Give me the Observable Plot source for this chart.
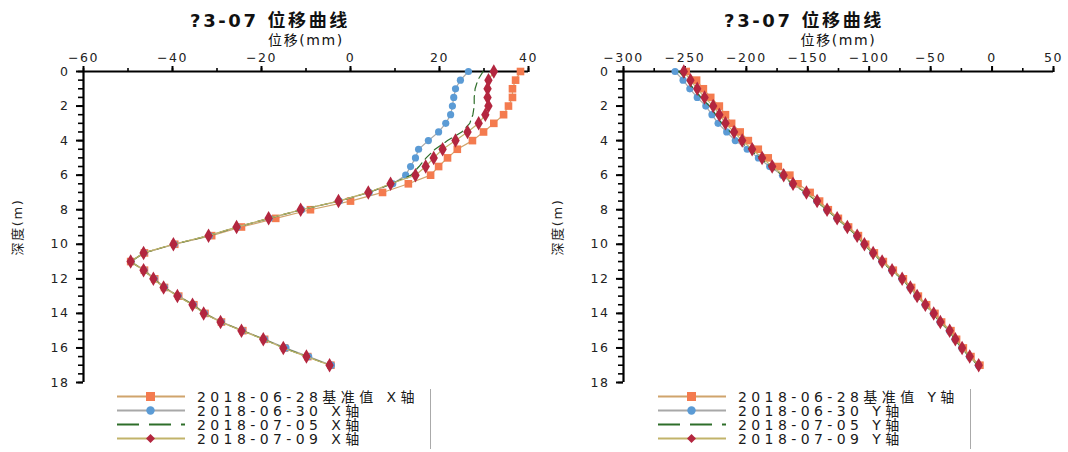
<!DOCTYPE html>
<html><head><meta charset="utf-8">
<script src="https://cdn.jsdelivr.net/npm/d3@7"></script>
<script src="https://cdn.jsdelivr.net/npm/@observablehq/plot@0.6"></script>
<style>
body{margin:0;background:#fff;font-family:"DejaVu Sans","Noto Sans CJK SC",sans-serif;}
#root{position:relative;width:1068px;height:452px;overflow:hidden;background:#fff;}
.panel{position:absolute;top:0;height:452px;}
.title{position:absolute;top:6px;left:0;width:100%;text-align:center;font-weight:bold;font-size:18px;letter-spacing:2.6px;color:#111;}
.chart{position:absolute;top:28px;left:0;}
.legend{position:absolute;top:389px;height:60px;border-right:1px solid #aaa;font-size:14px;letter-spacing:4.4px;color:#1a1a1a;}
.row{display:flex;align-items:center;height:14px;white-space:nowrap;}
.row svg{flex:none;margin-right:10px;}
</style></head>
<body><div id="root"></div>
<script>
const depth = [0,0.5,1,1.5,2,2.5,3,3.5,4,4.5,5,5.5,6,6.5,7,7.5,8,8.5,9,9.5,10,10.5,11,11.5,12,12.5,13,13.5,14,14.5,15,15.5,16,16.5,17];

const seriesNamesX = ["2018-06-28基准值 X轴","2018-06-30 X轴","2018-07-05 X轴","2018-07-09 X轴"];
const seriesNamesY = ["2018-06-28基准值 Y轴","2018-06-30 Y轴","2018-07-05 Y轴","2018-07-09 Y轴"];

// X-direction displacement (mm)
const x0628 = [38.2,37.1,36.4,36.4,35.5,34.4,32.2,29.9,27.4,24.0,21.8,19.8,18.0,13.0,7.2,0.0,-9.0,-16.8,-24.5,-31.2,-39.5,-46.3,-49.4,-46.3,-44.0,-41.8,-38.6,-35.2,-32.7,-29.0,-24.2,-19.3,-14.8,-9.6,-4.4];
const x0630 = [26.5,24.7,23.6,23.2,22.9,22.5,21.4,19.8,17.5,15.3,14.6,13.5,12.4,9.5,4.2,-2.5,-11.0,-18.2,-25.4,-31.7,-39.6,-46.4,-49.3,-46.4,-44.1,-41.8,-38.7,-35.3,-32.8,-29.0,-24.3,-19.3,-14.5,-9.4,-4.3];
const x0705 = [29.8,28.6,28.0,27.8,27.8,27.5,26.8,25.0,21.8,19.0,17.0,15.4,13.6,9.2,4.1,-2.6,-11.1,-18.3,-25.5,-31.8,-39.7,-46.5,-49.4,-46.5,-44.2,-41.9,-38.8,-35.4,-32.9,-29.1,-24.4,-19.5,-15.0,-9.8,-4.6];
const x0709 = [32.2,31.0,30.8,30.8,31.0,30.3,28.8,26.3,23.6,20.7,18.7,16.9,14.6,9.0,4.0,-2.7,-11.2,-18.4,-25.6,-31.9,-39.8,-46.5,-49.4,-46.5,-44.3,-42.0,-38.9,-35.5,-33.0,-29.2,-24.5,-19.6,-15.1,-9.9,-4.7];

// Y-direction displacement (mm)
const y0628 = [-249,-240.5,-235,-229,-222,-217,-212,-205,-198.4,-190.3,-182.2,-174,-164.6,-158,-148.1,-140.4,-133.3,-125.1,-116.8,-108.8,-102.9,-95.8,-88.5,-80.4,-72.2,-65.5,-60,-53.3,-46.5,-41.1,-33.5,-28.9,-23.4,-17.2,-9.9];
const y0630 = [-258,-251.5,-246,-240,-233,-228,-223,-216,-209,-199.3,-190.2,-181,-170.6,-162.5,-151.5,-142.8,-134.6,-126.4,-118.1,-110.1,-104.2,-97.1,-89.8,-81.7,-73.5,-66.8,-61.3,-54.6,-47.8,-42.4,-34.8,-30.2,-24.7,-18.5,-11.2];
const y0705 = [-255,-248.5,-243,-237,-230,-225,-220,-213,-206,-197.3,-189,-180.5,-170.6,-162.8,-151.8,-143,-134.8,-126.6,-118.3,-110.3,-104.4,-97.3,-90,-81.9,-73.7,-67,-61.5,-54.8,-48,-42.6,-35,-30.4,-24.9,-18.7,-11.4];
const y0709 = [-250.9,-245.5,-240,-234,-227,-222,-217,-210,-203.4,-195.3,-187.2,-179,-169.6,-162,-151.1,-142.4,-134.3,-126.1,-117.8,-109.8,-103.9,-96.8,-89.5,-81.4,-73.2,-66.5,-61,-54.3,-47.5,-42.1,-34.5,-29.9,-24.4,-18.2,-10.9];

const titleText = "?3-07 位移曲线";
const xLabel = "位移(mm)";
const yLabel = "深度(m)";
const depthTicks = [0,2,4,6,8,10,12,14,16,18];
const depthMinor = [0,0.5,1,1.5,2,2.5,3,3.5,4,4.5,5,5.5,6,6.5,7,7.5,8,8.5,9,9.5,10,10.5,11,11.5,12,12.5,13,13.5,14,14.5,15,15.5,16,16.5,17,17.5,18];
const leftTicks = [-60,-40,-20,0,20,40];
const leftMinor = [-60,-50,-40,-30,-20,-10,0,10,20,30,40];
const rightTicks = [-300,-250,-200,-150,-100,-50,0,50];
const rightMinor = [-300,-275,-250,-225,-200,-175,-150,-125,-100,-75,-50,-25,0,25,50];

const styles = [
  {line:"#d0a46c", fill:"#f47b4f", symbol:"square", r:4.3, dash:null},
  {line:"#a8a8a8", fill:"#5b9bd5", symbol:"circle", r:3.6, dash:null},
  {line:"#2e6e2a", fill:null, symbol:null, r:0, dash:"8,5"},
  {line:"#c2b36a", fill:"#b3263f", symbol:"diamond", r:4.4, dash:null}
];

function makeChart(width, marginRight, domain, ticks, minor, seriesVals, names) {
  const marks = [
    Plot.axisX({anchor:"top", ticks:minor, tickSize:4, text:null, label:null, strokeWidth:1.6, stroke:"#000"}),
    Plot.axisX({anchor:"top", ticks:ticks, tickSize:6, tickPadding:4, strokeWidth:2, stroke:"#000", label:null}),
    Plot.axisX({anchor:"top", ticks:[], tickSize:0, label:xLabel, labelAnchor:"center", labelOffset:36, labelArrow:false, fontSize:14, color:"#111"}),
    Plot.axisY({anchor:"left", ticks:depthMinor, tickSize:5, text:null, label:null, strokeWidth:1.6, stroke:"#000"}),
    Plot.axisY({anchor:"left", ticks:depthTicks, tickSize:7, tickPadding:7, strokeWidth:2, stroke:"#000", label:null}),
    Plot.axisY({anchor:"left", ticks:[], tickSize:0, label:yLabel, labelAnchor:"center", labelOffset:71, labelArrow:false, fontSize:13}),
    Plot.ruleX([domain[0]], {stroke:"#000", strokeWidth:2.2}),
    Plot.ruleY([0], {stroke:"#000", strokeWidth:2.2})
  ];
  seriesVals.forEach((vals, k) => {
    const st = styles[k];
    const data = depth.map((d, i) => ({depth:d, v:vals[i]}));
    marks.push(Plot.line(data, {x:"v", y:"depth", stroke:st.line, strokeWidth:1.2, strokeDasharray:st.dash}));
    if (st.symbol) marks.push(Plot.dot(data, {x:"v", y:"depth", symbol:st.symbol, r:st.r, fill:st.fill, stroke:"none"}));
  });
  return Plot.plot({
    width, height:366, marginLeft:83, marginRight, marginTop:43, marginBottom:12,
    style:{fontFamily:'"DejaVu Sans","Noto Sans CJK SC",sans-serif', fontSize:"12.5px", color:"#222", background:"#fff", letterSpacing:"1.6px", overflow:"visible"},
    x:{domain}, y:{domain:[0,18], reverse:true},
    marks
  });
}

function legend(names) {
  const div = document.createElement("div");
  div.className = "legend";
  names.forEach((n, k) => {
    const st = styles[k];
    const row = document.createElement("div");
    row.className = "row";
    let marker = "";
    if (st.symbol === "square") marker = `<rect x="31" y="3" width="9" height="9" fill="${st.fill}"/>`;
    if (st.symbol === "circle") marker = `<circle cx="35.5" cy="7.5" r="4.2" fill="${st.fill}"/>`;
    if (st.symbol === "diamond") marker = `<path d="M35.5 3L40 7.5L35.5 12L31 7.5Z" fill="${st.fill}"/>`;
    const dash = st.dash ? `stroke-dasharray="22,10"` : "";
    const sw = st.dash ? 2 : 2.2;
    row.innerHTML = `<svg width="72" height="14"><line x1="2" x2="70" y1="7.5" y2="7.5" stroke="${st.line}" stroke-width="${sw}" ${dash}/>${marker}</svg><span>${n}</span>`;
    div.appendChild(row);
  });
  return div;
}

function panel(left, width, marginRight, domain, ticks, minor, seriesVals, names, legLeft, legWidth) {
  const p = document.createElement("div");
  p.className = "panel";
  p.style.left = left + "px";
  p.style.width = width + "px";
  const t = document.createElement("div");
  t.className = "title";
  t.textContent = titleText;
  p.appendChild(t);
  const c = document.createElement("div");
  c.className = "chart";
  c.appendChild(makeChart(width, marginRight, domain, ticks, minor, seriesVals, names));
  p.appendChild(c);
  const lg = legend(names);
  lg.style.left = legLeft + "px";
  lg.style.width = legWidth + "px";
  p.appendChild(lg);
  document.getElementById("root").appendChild(p);
}

panel(0, 540, 12, [-60, 40], leftTicks, leftMinor, [x0628, x0630, x0705, x0709], seriesNamesX, 115, 315);
panel(540, 528, 15, [-300, 50], rightTicks, rightMinor, [y0628, y0630, y0705, y0709], seriesNamesY, 116, 314);
</script></body></html>
